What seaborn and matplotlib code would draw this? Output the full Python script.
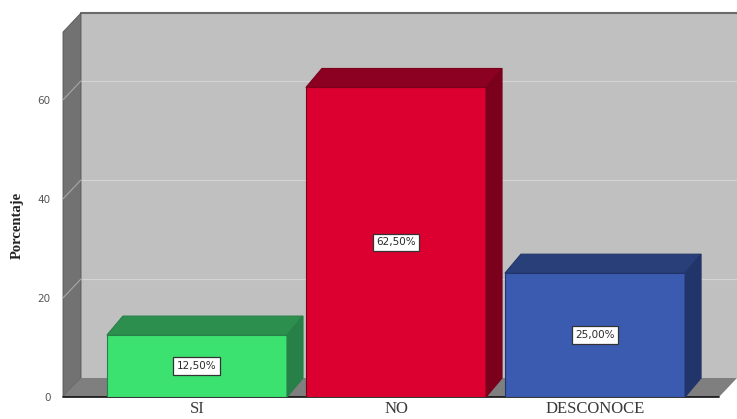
import matplotlib
matplotlib.use("Agg")
import matplotlib.pyplot as plt
from matplotlib.patches import Polygon
import seaborn as sns
import pandas as pd

# Datos
categorias = ["SI", "NO", "DESCONOCE"]
porcentajes = [12.5, 62.5, 25.0]
ticks_y = [0, 20, 40, 60]

# Colores: cara frontal, cara superior, cara lateral
color_frente = ["#3ce26f", "#dc0031", "#3b5bb1"]
color_tope = ["#2c8f4d", "#8c0021", "#283f7a"]
color_lado = ["#268048", "#7a001c", "#22356a"]

sns.set_theme(style="white")

W, H = 737, 419
fig = plt.figure(figsize=(W / 100, H / 100), dpi=100)
# axes en píxeles: frente del gráfico
left_px, right_px, bottom_px, top_px = 63, 719, 397, 32
ax = fig.add_axes([left_px / W, (H - bottom_px) / H,
                   (right_px - left_px) / W, (bottom_px - top_px) / H])

x0, x1 = -0.673, 2.623
ymax = 73.7

# desplazamiento de profundidad (en unidades de datos)
px_x = (right_px - left_px) / (x1 - x0)
px_y = (bottom_px - top_px) / ymax
dx = 18 / px_x
dy = 19 / px_y
bdx = 16 / px_x
bdy = 19 / px_y

df = pd.DataFrame({"categoria": categorias, "porcentaje": porcentajes})
sns.barplot(data=df, x="categoria", y="porcentaje", hue="categoria",
            palette=color_frente, width=0.905, legend=False, ax=ax,
            saturation=1, zorder=2)
barras = [r for c in ax.containers for r in c]
ax.set_xlim(x0, x1)
ax.set_ylim(0, ymax)


def poly(pts, fc, ec="none", lw=0.6, z=1):
    p = Polygon(pts, closed=True, facecolor=fc, edgecolor=ec, linewidth=lw,
                zorder=z, clip_on=False)
    ax.add_patch(p)


# pared de fondo
poly([(x0 + dx, dy), (x1 + dx, dy), (x1 + dx, ymax + dy), (x0 + dx, ymax + dy)],
     "#c0c0c0", z=0.1)
ax.plot([x0 + dx, x1 + dx], [ymax + dy, ymax + dy], color="#6a6a6a", lw=1.5,
        zorder=0.2, clip_on=False)
# pared izquierda
poly([(x0, 0), (x0, ymax), (x0 + dx, ymax + dy), (x0 + dx, dy)],
     "#727272", ec="#555555", lw=0.6, z=0.3)
# suelo
poly([(x0, 0), (x1, 0), (x1 + dx, dy), (x0 + dx, dy)], "#7f7f7f", z=0.3)
ax.plot([x0, x1], [0, 0], color="#111111", lw=1.2, zorder=0.4, clip_on=False)

# líneas de cuadrícula
for t in ticks_y[1:]:
    ax.plot([x0 + dx, x1 + dx], [t + dy, t + dy], color="#d4d4d4", lw=0.8,
            zorder=0.2, clip_on=False)
    ax.plot([x0, x0 + dx], [t, t + dy], color="#a8a8a8", lw=0.8,
            zorder=0.35, clip_on=False)

for bar, ct, cl, v in zip(barras, color_tope, color_lado, porcentajes):
    bx, bw, bh = bar.get_x(), bar.get_width(), bar.get_height()
    bar.set_edgecolor(cl)
    bar.set_linewidth(0.8)
    # cara superior
    poly([(bx, bh), (bx + bw, bh), (bx + bw + bdx, bh + bdy), (bx + bdx, bh + bdy)],
         ct, ec=cl, lw=0.8, z=2.5)
    # cara lateral
    poly([(bx + bw, 0), (bx + bw, bh), (bx + bw + bdx, bh + bdy), (bx + bw + bdx, bdy)],
         cl, ec=cl, lw=0.8, z=2.5)
    # etiqueta de valor
    etiqueta = f"{v:.2f}%".replace(".", ",")
    ax.text(bx + bw / 2, bh / 2, etiqueta, ha="center", va="center",
            fontsize=7.5, color="#2a2a2a", family="DejaVu Sans Condensed", zorder=4,
            bbox=dict(boxstyle="square,pad=0.35", fc="white", ec="#333333", lw=0.9))

ax.set_yticks(ticks_y)
ax.set_yticklabels([str(t) for t in ticks_y], fontsize=7.5, color="#555555")
ax.tick_params(axis="y", length=0, pad=9)
ax.set_xticks(range(len(categorias)))
ax.set_xticklabels(categorias, fontsize=12, color="#3a3a3a",
                   family="Liberation Serif")
ax.tick_params(axis="x", length=0, pad=3)
ax.set_xlabel("")
ax.set_ylabel("Porcentaje", fontsize=10.5, family="Liberation Serif",
              fontweight="bold", color="#222222")
ax.yaxis.set_label_coords((24 - left_px) / (right_px - left_px), 0.47)
for s in ax.spines.values():
    s.set_visible(False)
ax.set_facecolor("none")
ax.grid(False)

fig.savefig("out.png", dpi=100, facecolor="white")
